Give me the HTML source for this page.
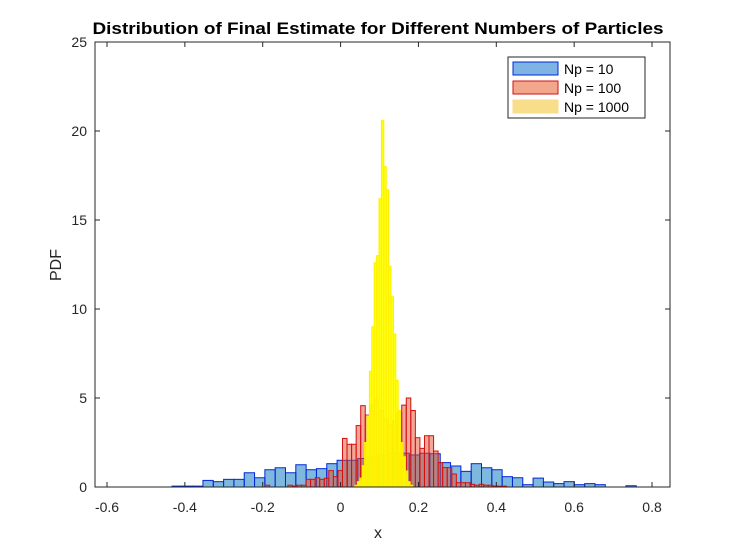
<!DOCTYPE html>
<html><head><meta charset="utf-8">
<style>
body{margin:0;background:#fff;}
svg{display:block;font-family:"Liberation Sans",Arial,sans-serif;}
</style></head>
<body>
<svg id="chart" width="729" height="547" viewBox="0 0 729 547" xmlns="http://www.w3.org/2000/svg">
<rect x="0" y="0" width="729" height="547" fill="#fff"/>
<rect x="95" y="42" width="575" height="445" fill="#fff"/>
<g id="bars"></g>
<rect x="95" y="42" width="575" height="445" fill="none" stroke="#262626" stroke-width="1"/>
<g id="axes"></g>
<text x="378" y="34" text-anchor="middle" font-size="17" font-weight="bold" fill="#000" textLength="571" lengthAdjust="spacingAndGlyphs">Distribution of Final Estimate for Different Numbers of Particles</text>
<text x="378" y="538" text-anchor="middle" font-size="16" fill="#262626">x</text>
<text transform="translate(61,265) rotate(-90)" text-anchor="middle" font-size="16" fill="#262626">PDF</text>
<g>
<rect x="508" y="57" width="137" height="61" fill="#fff" stroke="#262626" stroke-width="1"/>
<g><rect x="513" y="62" width="45" height="13" fill="#7eb4e4" stroke="#0026d9"/><text x="564" y="74" font-size="14" fill="#000">Np = 10</text></g>
<g><rect x="513" y="81" width="45" height="13" fill="#f2a68c" stroke="#d31010"/><text x="564" y="93" font-size="14" fill="#000">Np = 100</text></g>
<g><rect x="513" y="100" width="45" height="13" fill="#f8de8a" stroke="#f8de8a"/><text x="564" y="112" font-size="14" fill="#000">Np = 1000</text></g>
</g>
</svg>
<script>
const xTicks = [-0.6,-0.4,-0.2,0,0.2,0.4,0.6,0.8];
const xTickLabels = ["-0.6","-0.4","-0.2","0","0.2","0.4","0.6","0.8"];
const yTicks = [0,5,10,15,20,25];
const yTickLabels = ["0","5","10","15","20","25"];
const blueStart = -0.433, blueWidth = 0.0265;
const blueValues = [0.05,0.05,0.05,0.37,0.3,0.43,0.43,0.8,0.52,0.97,1.08,0.8,1.25,0.97,1.03,1.31,1.5,1.5,1.6,1.7,1.8,1.9,1.9,1.8,1.9,1.87,1.37,1.18,0.88,1.31,1.08,0.97,0.58,0.52,0.13,0.5,0.28,0.19,0.3,0.13,0.19,0.13,0,0,0.07];
const redStart = -0.194, redWidth = 0.0117;
const redValues = [0.1,0,0,0,0,0.1,0.05,0.1,0.1,0.43,0.43,0.52,0.43,0.49,0.92,0.58,0.92,2.73,2.4,2.4,3.45,4.57,4.04,4.6,4.9,4.3,3.8,3.5,3.7,4.2,4.6,5.0,4.3,2.77,2.17,2.88,2.88,2.02,1.37,1.09,1.09,0.73,0.24,0.24,0.24,0.15,0.1,0.15,0.1,0.1,0.05,0.05,0.05];
const yellowStart = 0.037, yellowWidth = 0.00617;
const yellowValues = [0.1,0.3,0.5,1.2,2.5,4,6.5,9,12.6,13,16.2,20.6,18.0,16.7,12.4,10.7,8.6,6,4.3,2.5,1.7,0.9,0.3,0.1];

const X0=95,X1=670,Y0=487,Y1=42;
const xMin=-0.6-12/389.3, xMax=xMin+575/389.3, yMin=0, yMax=25;
function xs(v){return X0+(v-xMin)/(xMax-xMin)*(X1-X0);}
function ys(v){return Y0-(v-yMin)/(yMax-yMin)*(Y0-Y1);}
const NS="http://www.w3.org/2000/svg";
const bars=document.getElementById('bars');
function drawSeries(start,width,vals,fill,stroke,op,name){
  vals.forEach((v,i)=>{
    if(v<=0) return;
    const r=document.createElementNS(NS,'rect');
    const x=xs(start+i*width), x2=xs(start+(i+1)*width);
    r.setAttribute('x',x); r.setAttribute('width',x2-x);
    r.setAttribute('y',ys(v)); r.setAttribute('height',ys(0)-ys(v));
    r.setAttribute('fill',fill); r.setAttribute('fill-opacity',op);
    r.setAttribute('stroke',stroke); r.setAttribute('stroke-width','1');
    
    
    bars.appendChild(r);
  });
}
drawSeries(blueStart,blueWidth,blueValues,'#0072bd','#0026d9',0.5,'np10');
drawSeries(redStart,redWidth,redValues,'#e8502e','#d31010',0.5,'np100');
drawSeries(yellowStart,yellowWidth,yellowValues,'#ffff00','#ffef00',0.92,'np1000');
const axes=document.getElementById('axes');
xTicks.forEach((t,i)=>{
  const x=xs(t);
  const l=document.createElementNS(NS,'line');
  l.setAttribute('x1',x);l.setAttribute('x2',x);l.setAttribute('y1',Y0);l.setAttribute('y2',Y0-5);
  l.setAttribute('stroke','#262626');
  
  
  axes.appendChild(l);
  const l2=l.cloneNode();l2.setAttribute('y1',Y1);l2.setAttribute('y2',Y1+5);axes.appendChild(l2);
  const tx=document.createElementNS(NS,'text');
  tx.setAttribute('x',x);tx.setAttribute('y',512);tx.setAttribute('text-anchor','middle');
  tx.setAttribute('font-size','14');tx.setAttribute('fill','#262626');
  tx.textContent=xTickLabels[i];
  
  
  axes.appendChild(tx);
});
yTicks.forEach((t,i)=>{
  const y=ys(t);
  const l=document.createElementNS(NS,'line');
  l.setAttribute('x1',X0);l.setAttribute('x2',X0+5);l.setAttribute('y1',y);l.setAttribute('y2',y);
  l.setAttribute('stroke','#262626');
  
  
  axes.appendChild(l);
  const l2=l.cloneNode();l2.setAttribute('x1',X1);l2.setAttribute('x2',X1-5);axes.appendChild(l2);
  const tx=document.createElementNS(NS,'text');
  tx.setAttribute('x',87);tx.setAttribute('y',y+5);tx.setAttribute('text-anchor','end');
  tx.setAttribute('font-size','14');tx.setAttribute('fill','#262626');
  tx.textContent=yTickLabels[i];
  
  
  axes.appendChild(tx);
});
</script>
</body></html>
